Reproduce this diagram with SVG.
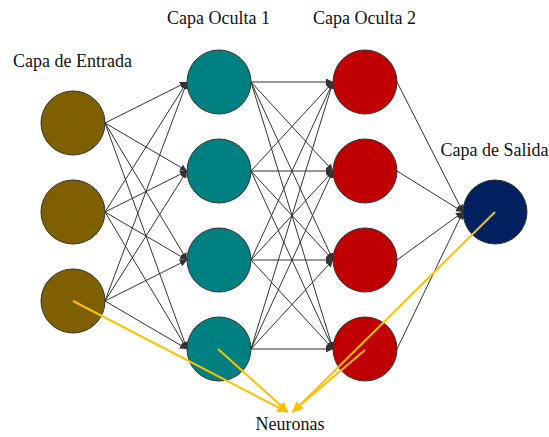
<svg xmlns="http://www.w3.org/2000/svg" width="549" height="437" viewBox="0 0 549 437">
  <defs>
    <marker id="ah" viewBox="0 0 10 10" refX="10" refY="5" markerWidth="7" markerHeight="7" markerUnits="userSpaceOnUse" orient="auto">
      <path d="M0,0 L10,5 L0,10 z" fill="#333"/>
    </marker>
    <marker id="ahy" viewBox="0 0 10 10" refX="10" refY="5" markerWidth="10" markerHeight="10" markerUnits="userSpaceOnUse" orient="auto">
      <path d="M0,0 L10,5 L0,10 z" fill="#FFC000"/>
    </marker>
    <style>
      .e { stroke: #333; stroke-width: 1; fill: none; marker-end: url(#ah); }
      .y { stroke: #FFC000; stroke-width: 2; fill: none; marker-end: url(#ahy); }
      .n { stroke: #333; stroke-width: 1; }
      .in { fill: #7F6000; }
      .h1 { fill: #008080; }
      .h2 { fill: #C00000; }
      .out { fill: #002060; }
      text { font-family: "Liberation Serif", "Times New Roman", serif; font-size: 18px; fill: #111; text-anchor: middle; }
    </style>
  </defs>
  <rect width="549" height="437" fill="#fff"/>

  <g id="labels">
    <text x="218.5" y="24">Capa Oculta 1</text>
    <text x="364.5" y="24">Capa Oculta 2</text>
    <text x="72.5" y="67">Capa de Entrada</text>
    <text x="494.5" y="156">Capa de Salida</text>
    <text x="290" y="430">Neuronas</text>
  </g>

  <g id="connectors">
    <!-- input -> hidden 1 -->
    <line class="e" x1="105" y1="123" x2="187" y2="82"/>
    <line class="e" x1="105" y1="123" x2="187" y2="171"/>
    <line class="e" x1="105" y1="123" x2="187" y2="260"/>
    <line class="e" x1="105" y1="123" x2="187" y2="349"/>
    <line class="e" x1="105" y1="212" x2="187" y2="82"/>
    <line class="e" x1="105" y1="212" x2="187" y2="171"/>
    <line class="e" x1="105" y1="212" x2="187" y2="260"/>
    <line class="e" x1="105" y1="212" x2="187" y2="349"/>
    <line class="e" x1="105" y1="301" x2="187" y2="82"/>
    <line class="e" x1="105" y1="301" x2="187" y2="171"/>
    <line class="e" x1="105" y1="301" x2="187" y2="260"/>
    <line class="e" x1="105" y1="301" x2="187" y2="349"/>
    <!-- hidden 1 -> hidden 2 -->
    <line class="e" x1="251" y1="82" x2="333" y2="82"/>
    <line class="e" x1="251" y1="82" x2="333" y2="171"/>
    <line class="e" x1="251" y1="82" x2="333" y2="260"/>
    <line class="e" x1="251" y1="82" x2="333" y2="349"/>
    <line class="e" x1="251" y1="171" x2="333" y2="82"/>
    <line class="e" x1="251" y1="171" x2="333" y2="171"/>
    <line class="e" x1="251" y1="171" x2="333" y2="260"/>
    <line class="e" x1="251" y1="171" x2="333" y2="349"/>
    <line class="e" x1="251" y1="260" x2="333" y2="82"/>
    <line class="e" x1="251" y1="260" x2="333" y2="171"/>
    <line class="e" x1="251" y1="260" x2="333" y2="260"/>
    <line class="e" x1="251" y1="260" x2="333" y2="349"/>
    <line class="e" x1="251" y1="349" x2="333" y2="82"/>
    <line class="e" x1="251" y1="349" x2="333" y2="171"/>
    <line class="e" x1="251" y1="349" x2="333" y2="260"/>
    <line class="e" x1="251" y1="349" x2="333" y2="349"/>
    <!-- hidden 2 -> output -->
    <line class="e" x1="397" y1="82" x2="463" y2="212"/>
    <line class="e" x1="397" y1="171" x2="463" y2="212"/>
    <line class="e" x1="397" y1="260" x2="463" y2="212"/>
    <line class="e" x1="397" y1="349" x2="463" y2="212"/>
  </g>

  <g id="in1"><circle class="n in" cx="73" cy="123" r="32"/></g>
  <g id="in2"><circle class="n in" cx="73" cy="212" r="32"/></g>
  <g id="in3"><circle class="n in" cx="73" cy="301" r="32"/></g>

  <g id="h1a"><circle class="n h1" cx="219" cy="82" r="32"/></g>
  <g id="h1b"><circle class="n h1" cx="219" cy="171" r="32"/></g>
  <g id="h1c"><circle class="n h1" cx="219" cy="260" r="32"/></g>
  <g id="h1d"><circle class="n h1" cx="219" cy="349" r="32"/></g>

  <g id="h2a"><circle class="n h2" cx="365" cy="82" r="32"/></g>
  <g id="h2b"><circle class="n h2" cx="365" cy="171" r="32"/></g>
  <g id="h2c"><circle class="n h2" cx="365" cy="260" r="32"/></g>
  <g id="h2d"><circle class="n h2" cx="365" cy="349" r="32"/></g>

  <g id="out"><circle class="n out" cx="495" cy="212" r="32"/></g>

  <g id="annotations">
    <line class="y" x1="73" y1="301" x2="287" y2="412"/>
    <line class="y" x1="218" y1="349" x2="288" y2="412"/>
    <line class="y" x1="365" y1="350" x2="292" y2="412"/>
    <line class="y" x1="495" y1="212" x2="293" y2="412"/>
  </g>
</svg>
